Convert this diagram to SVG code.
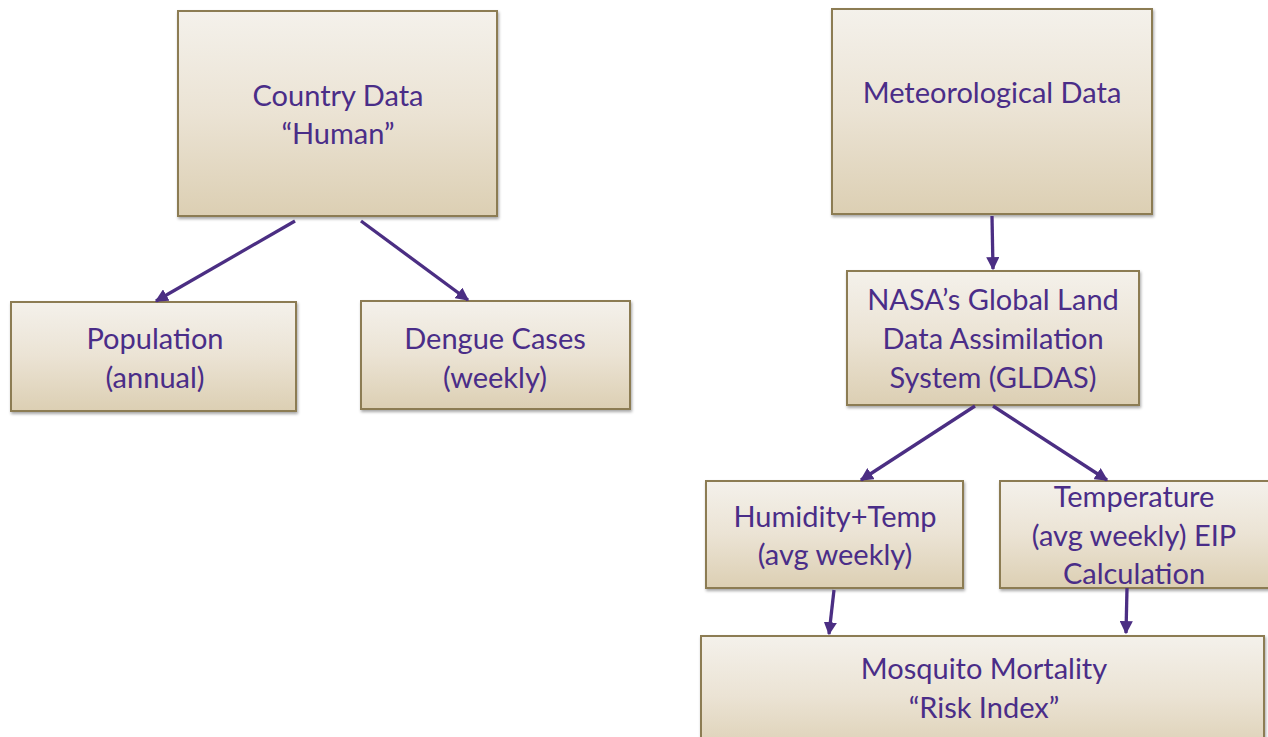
<svg xmlns="http://www.w3.org/2000/svg" width="1268" height="737" viewBox="0 0 1268 737">
<defs>
<linearGradient id="g" x1="0" y1="0" x2="0" y2="1">
<stop offset="0" stop-color="#f4f1eb"/>
<stop offset="0.5" stop-color="#ebe3d4"/>
<stop offset="1" stop-color="#dccfb3"/>
</linearGradient>
<filter id="sh" x="-5%" y="-5%" width="110%" height="115%">
<feDropShadow dx="1" dy="2" stdDeviation="1.5" flood-color="#000" flood-opacity="0.35"/>
</filter>
<marker id="ah" viewBox="0 0 10 10" refX="9" refY="5" markerWidth="4" markerHeight="4" orient="auto">
<path d="M0,0 L10,5 L0,10 z" fill="#4b2e83"/>
</marker>
</defs>
<style>
.box{fill:url(#g);stroke:#8c7b52;stroke-width:2;filter:url(#sh)}
.t{font-family:Lato,"Open Sans","Liberation Sans",sans-serif;font-size:29px;fill:#4a2d88;text-anchor:middle}
.c{stroke:#4b2e83;stroke-width:3.3;fill:none;marker-end:url(#ah)}
</style>
<rect width="1268" height="737" fill="#fff"/>
<g id="country">
<rect class="box" x="178" y="11" width="319" height="205"/>
<text class="t" x="338" y="106">Country Data</text>
<text class="t" x="338" y="144">“Human”</text>
</g>
<g id="population">
<rect class="box" x="11" y="302" width="285" height="109"/>
<text class="t" x="155" y="349">Population</text>
<text class="t" x="155" y="388">(annual)</text>
</g>
<g id="dengue">
<rect class="box" x="361" y="301" width="269" height="108"/>
<text class="t" x="495" y="349">Dengue Cases</text>
<text class="t" x="495" y="388">(weekly)</text>
</g>
<g id="meteo">
<rect class="box" x="832" y="9" width="320" height="205"/>
<text class="t" x="992" y="103">Meteorological Data</text>
</g>
<g id="nasa">
<rect class="box" x="847" y="271" width="292" height="134"/>
<text class="t" x="993" y="310">NASA’s Global Land</text>
<text class="t" x="993" y="349">Data Assimilation</text>
<text class="t" x="993" y="388">System (GLDAS)</text>
</g>
<g id="humidity">
<rect class="box" x="706" y="481" width="257" height="107"/>
<text class="t" x="835" y="527">Humidity+Temp</text>
<text class="t" x="835" y="565">(avg weekly)</text>
</g>
<g id="temperature">
<rect class="box" x="1000" y="481" width="280" height="107"/>
<text class="t" x="1134" y="507">Temperature</text>
<text class="t" x="1134" y="546">(avg weekly) EIP</text>
<text class="t" x="1134" y="584">Calculation</text>
</g>
<g id="mosquito">
<rect class="box" x="701" y="636" width="563" height="120"/>
<text class="t" x="984" y="679">Mosquito Mortality</text>
<text class="t" x="984" y="718">“Risk Index”</text>
</g>
<g id="connectors">
<line class="c" x1="295" y1="221" x2="156" y2="301"/>
<line class="c" x1="361" y1="221" x2="468" y2="300"/>
<line class="c" x1="992" y1="216" x2="993" y2="269"/>
<line class="c" x1="975" y1="406" x2="861" y2="480"/>
<line class="c" x1="993" y1="406" x2="1107" y2="480"/>
<line class="c" x1="834" y1="590" x2="829" y2="634"/>
<line class="c" x1="1127" y1="588" x2="1126" y2="633"/>
</g>
</svg>
